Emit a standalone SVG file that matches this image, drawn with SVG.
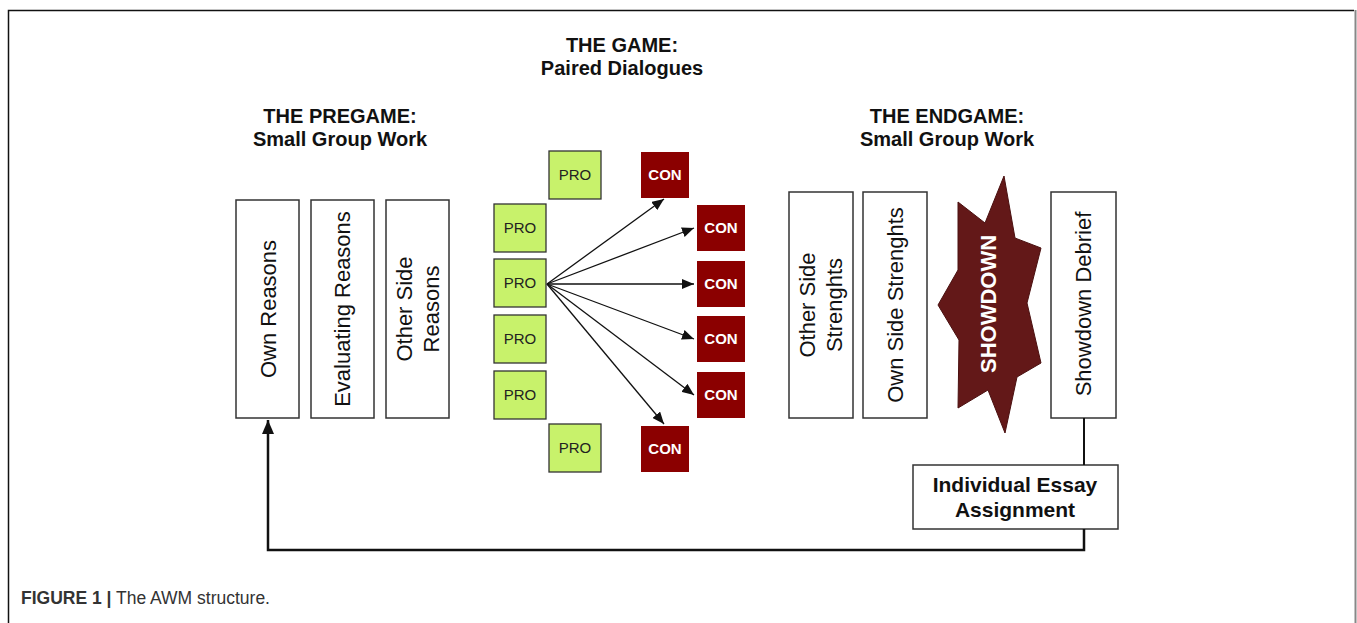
<svg xmlns="http://www.w3.org/2000/svg" width="1357" height="623" viewBox="0 0 1357 623">
<defs>
<style>
text{font-family:"Liberation Sans",Arial,sans-serif;}
.hdr{font-size:20px;font-weight:bold;fill:#111;text-anchor:middle;}
.box{fill:#fff;stroke:#333;stroke-width:1.5;}
.vt{font-size:22px;fill:#111;text-anchor:middle;}
.pro{fill:#c8f26b;stroke:#333;stroke-width:1.3;}
.con{fill:#8b0000;}
.prot{font-size:15px;fill:#222;text-anchor:middle;}
.cont{font-size:15px;font-weight:bold;fill:#fff;text-anchor:middle;}
.arr{stroke:#111;stroke-width:1.3;fill:none;marker-end:url(#ah);}
</style>
<marker id="ah" markerWidth="12" markerHeight="10" refX="12" refY="5" orient="auto" markerUnits="userSpaceOnUse">
<path d="M0,0 L12,5 L0,10 z" fill="#111"/>
</marker>
<marker id="ah2" markerWidth="14" markerHeight="12" refX="14" refY="6" orient="auto" markerUnits="userSpaceOnUse">
<path d="M0,0 L14,6 L0,12 z" fill="#111"/>
</marker>
</defs>
<rect width="1357" height="623" fill="#fff"/>
<path d="M8.5,623 V10.5 H1354" fill="none" stroke="#111" stroke-width="1.5"/>
<path d="M1355.5,10 V623" fill="none" stroke="#888" stroke-width="2"/>

<text class="hdr" x="622" y="52">THE GAME:</text>
<text class="hdr" x="622" y="75">Paired Dialogues</text>
<text class="hdr" x="340" y="123">THE PREGAME:</text>
<text class="hdr" x="340" y="146">Small Group Work</text>
<text class="hdr" x="947" y="123">THE ENDGAME:</text>
<text class="hdr" x="947" y="146">Small Group Work</text>

<g id="own-reasons"><rect class="box" x="236" y="200" width="63" height="218"/>
<text class="vt" transform="translate(268,309) rotate(-90)" dy="0.35em">Own Reasons</text></g>
<g id="evaluating-reasons"><rect class="box" x="311" y="200" width="63" height="218"/>
<text class="vt" transform="translate(342,309) rotate(-90)" dy="0.35em">Evaluating Reasons</text></g>
<g id="other-side-reasons"><rect class="box" x="386" y="200" width="63" height="218"/>
<text class="vt" transform="translate(404,309) rotate(-90)" dy="0.35em">Other Side</text>
<text class="vt" transform="translate(431,309) rotate(-90)" dy="0.35em">Reasons</text></g>

<g id="pro-0"><rect class="pro" x="549" y="151" width="52" height="48"/><text class="prot" x="575" y="180">PRO</text></g>
<g id="pro-1"><rect class="pro" x="494" y="204" width="52" height="48"/><text class="prot" x="520" y="233">PRO</text></g>
<g id="pro-2"><rect class="pro" x="494" y="259" width="52" height="48"/><text class="prot" x="520" y="288">PRO</text></g>
<g id="pro-3"><rect class="pro" x="494" y="315" width="52" height="48"/><text class="prot" x="520" y="344">PRO</text></g>
<g id="pro-4"><rect class="pro" x="494" y="371" width="52" height="48"/><text class="prot" x="520" y="400">PRO</text></g>
<g id="pro-5"><rect class="pro" x="549" y="424" width="52" height="48"/><text class="prot" x="575" y="453">PRO</text></g>

<g id="con-0"><rect class="con" x="641" y="152" width="48" height="46"/><text class="cont" x="665" y="180">CON</text></g>
<g id="con-1"><rect class="con" x="697" y="205" width="48" height="46"/><text class="cont" x="721" y="233">CON</text></g>
<g id="con-2"><rect class="con" x="697" y="261" width="48" height="46"/><text class="cont" x="721" y="289">CON</text></g>
<g id="con-3"><rect class="con" x="697" y="316" width="48" height="46"/><text class="cont" x="721" y="344">CON</text></g>
<g id="con-4"><rect class="con" x="697" y="372" width="48" height="46"/><text class="cont" x="721" y="400">CON</text></g>
<g id="con-5"><rect class="con" x="641" y="426" width="48" height="46"/><text class="cont" x="665" y="454">CON</text></g>

<g id="other-side-strenghts"><rect class="box" x="789" y="192" width="64" height="226"/>
<text class="vt" transform="translate(807,305) rotate(-90)" dy="0.35em">Other Side</text>
<text class="vt" transform="translate(834,305) rotate(-90)" dy="0.35em">Strenghts</text></g>
<g id="own-side-strenghts"><rect class="box" x="863" y="192" width="64" height="226"/>
<text class="vt" transform="translate(895,305) rotate(-90)" dy="0.35em">Own Side Strenghts</text></g>
<g id="showdown"><path d="M1004,176 L1015,238 L1041,248 L1027,303 L1041,363 L1017,377 L1005,433 L988,390 L958,408 L959,340 L938,305 L958,270 L958,202 L985,223 Z" fill="#631818" stroke="#4a1010" stroke-width="1"/>
<text transform="translate(988,304) rotate(-90)" dy="0.35em" style="font-size:22px;font-weight:bold;fill:#fff;text-anchor:middle">SHOWDOWN</text></g>
<g id="showdown-debrief"><rect class="box" x="1051" y="192" width="65" height="226"/>
<text class="vt" transform="translate(1083,304) rotate(-90)" dy="0.35em">Showdown Debrief</text></g>
<g id="essay"><rect class="box" x="913" y="465" width="205" height="64"/>
<text x="1015" y="492" style="font-size:21px;font-weight:bold;fill:#111;text-anchor:middle">Individual Essay</text>
<text x="1015" y="517" style="font-size:21px;font-weight:bold;fill:#111;text-anchor:middle">Assignment</text></g>

<g id="connectors">
<line class="arr" x1="547" y1="284" x2="664" y2="199"/>
<line class="arr" x1="547" y1="284" x2="694" y2="228"/>
<line class="arr" x1="547" y1="284" x2="694" y2="284"/>
<line class="arr" x1="547" y1="284" x2="694" y2="339"/>
<line class="arr" x1="547" y1="284" x2="694" y2="395"/>
<line class="arr" x1="547" y1="284" x2="664" y2="424"/>
<line x1="1084" y1="418" x2="1084" y2="465" stroke="#111" stroke-width="2"/>
<path d="M1084,529 V550 H268 V420" fill="none" stroke="#111" stroke-width="2.5" marker-end="url(#ah2)"/>
</g>

<text x="21" y="604" style="font-size:17.5px;fill:#333"><tspan font-weight="bold">FIGURE 1 |</tspan> The AWM structure.</text>
</svg>
